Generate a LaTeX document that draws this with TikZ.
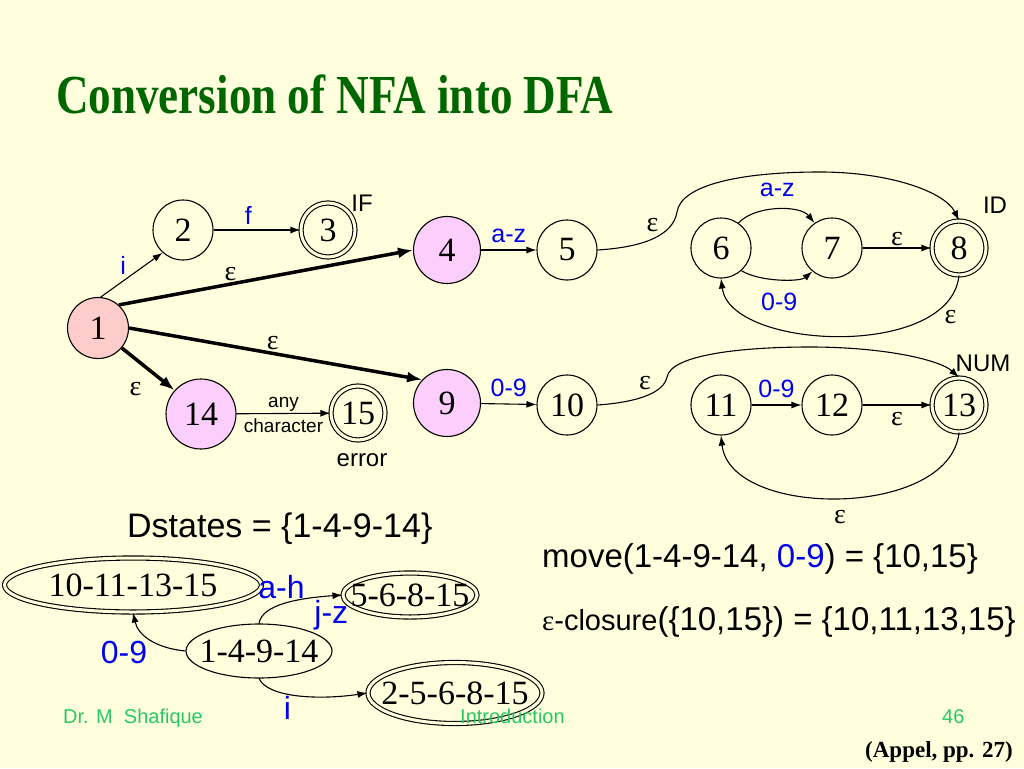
\documentclass[tikz,border=0pt]{standalone}
\usepackage{fontspec}
\setmainfont{Liberation Serif}
\setsansfont{Liberation Sans}
\usetikzlibrary{shapes,arrows.meta,positioning}
\definecolor{slidebg}{RGB}{255,255,221}
\definecolor{titlegreen}{RGB}{0,102,0}
\definecolor{footgreen}{RGB}{40,200,100}
\definecolor{lblblue}{RGB}{0,0,235}
\definecolor{startpink}{RGB}{255,204,204}
\definecolor{statepink}{RGB}{252,206,252}
% text of a DFA state, kept out of the ellipse size
\newcommand{\dtext}[1]{\makebox[0pt]{#1}}

\begin{document}
\begin{tikzpicture}[
    x=1pt, y=-1pt,
    every node/.style={inner sep=0pt},
    nstate/.style={
        circle, draw,
        line width=1.1pt,
        minimum size=60pt,
        font=\fontsize{34}{34}\selectfont
    },
    startstate/.style={nstate, fill=startpink, minimum size=61pt},
    pinkstate/.style={nstate, fill=statepink, minimum size=67pt},
    final/.style={nstate, double=slidebg, double distance=3pt, minimum size=54pt},
    dstate/.style={
        ellipse, draw,
        line width=1.1pt,
        font=\fontsize{34}{34}\selectfont
    },
    dfinal/.style={dstate, double=slidebg, double distance=3pt},
    lbl/.style={text=lblblue, inner sep=2pt, font=\sffamily\fontsize{25}{25}\selectfont},
    biglbl/.style={lbl, font=\sffamily\fontsize{32}{32}\selectfont},
    eps/.style={inner sep=2pt, font=\fontsize{28}{28}\selectfont},
    tag/.style={font=\sffamily\fontsize{24}{24}\selectfont},
    small/.style={inner sep=1pt, font=\sffamily\fontsize{19}{19}\selectfont},
    arc/.style={-{Latex[length=10pt,width=7pt]}, line width=1.1pt},
    fat/.style={-{Latex[length=15pt,width=11pt]}, line width=3.5pt}
]
\useasboundingbox[fill=slidebg] (0,0) rectangle (1024,768);

\node[anchor=base west, text=titlegreen, font=\bfseries\fontsize{55}{55}\selectfont]
    (title) at (56,113) {\scalebox{0.82}[1]{Conversion of NFA into DFA}};

% NFA
\node[startstate] (n1) at (98,328) {1};
\node[nstate] (n2) at (183,230) {2};
\node[final] (n3) at (328,230) {3};
\node[pinkstate] (n4) at (447,250) {4};
\node[nstate] (n5) at (567,250) {5};
\node[nstate] (n6) at (721,248) {6};
\node[nstate] (n7) at (832,248) {7};
\node[final] (n8) at (959,248) {8};
\node[pinkstate] (n9) at (447,403) {9};
\node[nstate] (n10) at (567,405) {10};
\node[nstate] (n11) at (721,405) {11};
\node[nstate] (n12) at (832,405) {12};
\node[final] (n13) at (959,405) {13};
\node[pinkstate, minimum size=70pt] (n14) at (201,414) {14};
\node[final] (n15) at (358,413) {15};

\node[tag] (iftag) at (362,203) {IF};
\node[tag] (idtag) at (995,205) {ID};
\node[tag] (numtag) at (983,363) {NUM};
\node[tag] (errtag) at (362,460) {error};

\draw[arc] (n1.85) -- node[lbl, above left, pos=0.45] {i} (n2.-132);
\draw[arc] (n2) -- node[lbl, above=3pt, pos=0.4] {f} (n3);
\draw[fat] (n1.48) -- node[eps, above, pos=0.38] {ε} (n4.west);
\draw[fat] (n1.east) -- node[eps, above, pos=0.49] {ε} (n9.137);
\draw[fat] (n1.-40) -- node[eps, below left=9pt and 3pt, pos=0.5] {ε} (n14.138);
\draw[arc] (n14) -- node[small, above] {any} node[small, below=4pt] {character} (n15);

\draw[arc] (n4) -- node[lbl, above=5pt] {a-z} (n5);
\draw[arc] (n5.east) .. controls (645,247) and (673,235) .. node[eps, above left, pos=0.6] {ε} (677,212)
    .. controls (681,185) and (740,172) .. (820,172)
    .. controls (890,172) and (945,192) .. (n8.north);
\draw[arc] (n6.55) .. controls (755,205) and (800,205) .. node[lbl, above=10pt] {a-z} (n7.125);
\draw[arc] (n6.-48) .. controls (760,282) and (800,282) .. node[lbl, below=11pt] {0-9} (n7.-130);
\draw[arc] (n7) -- node[eps, above] {ε} (n8);
\draw[arc] (n8.south) .. controls (950,360) and (730,350) .. node[eps, below right, pos=0.15] {ε} (n6.south);

\draw[arc] (n9) -- node[lbl, above=5pt] {0-9} (n10);
\draw[arc] (n10.east) .. controls (640,402) and (664,392) .. node[eps, above left, pos=0.6] {ε} (667,377)
    .. controls (671,355) and (740,347) .. (810,347)
    .. controls (885,347) and (940,360) .. (n13.north);
\draw[arc] (n11) -- node[lbl, above=5pt] {0-9} (n12);
\draw[arc] (n12) -- node[eps, below=5pt] {ε} (n13);
\draw[arc] (n13.south) .. controls (950,519) and (730,519) .. node[eps, below=10pt] {ε} (n11.south);

% DFA
\node[anchor=base west, font=\sffamily\fontsize{34}{34}\selectfont]
    (dstates) at (127,537) {Dstates = \{1-4-9-14\}};
\node[dstate, minimum width=146pt, minimum height=54pt] (dA) at (259,651) {\dtext{1-4-9-14}};
\node[dfinal, minimum width=257pt, minimum height=54pt] (dB) at (133,585) {\dtext{10-11-13-15}};
\node[dfinal, minimum width=134pt, minimum height=44pt] (dC) at (410,595) {\dtext{5-6-8-15}};
\node[dfinal, minimum width=174pt, minimum height=61pt] (dD) at (455,693) {\dtext{2-5-6-8-15}};

\draw[arc] (dA.west) .. controls (155,648) and (138,635) .. node[biglbl, below left, pos=0.5] {0-9} (dB.south);
\draw[arc] (dA.north) .. controls (262,604) and (300,598) .. node[biglbl, above=3pt, pos=0.45] {a-h}
    node[biglbl, below right, pos=0.75] {j-z} (dC.west);
\draw[arc] (dA.south) .. controls (268,698) and (320,700) .. node[biglbl, below=0pt, pos=0.4] {i} (dD.west);

\node[anchor=base west, font=\sffamily\fontsize{33}{33}\selectfont]
    (move) at (542,567) {move(1-4-9-14, \textcolor{lblblue}{0-9}) = \{10,15\}};
\node[anchor=base west, font=\sffamily\fontsize{33}{33}\selectfont]
    (closure) at (542,630) {{\fontsize{29}{29}\selectfont{\rmfamily ε}-closure}(\{10,15\}) = \{10,11,13,15\}};

% footer
\node[anchor=base west, text=footgreen, font=\sffamily\fontsize{20}{20}\selectfont]
    (author) at (63,723) {Dr. M\ \ Shafique};
\node[anchor=base west, text=footgreen, font=\sffamily\fontsize{20}{20}\selectfont]
    (topic) at (460,723) {Introduction};
\node[anchor=base west, text=footgreen, font=\sffamily\fontsize{20}{20}\selectfont]
    (page) at (942,723) {46};
\node[anchor=base east, font=\bfseries\fontsize{23}{23}\selectfont]
    (cite) at (1013,757) {(Appel, pp. 27)};
\end{tikzpicture}
\end{document}
